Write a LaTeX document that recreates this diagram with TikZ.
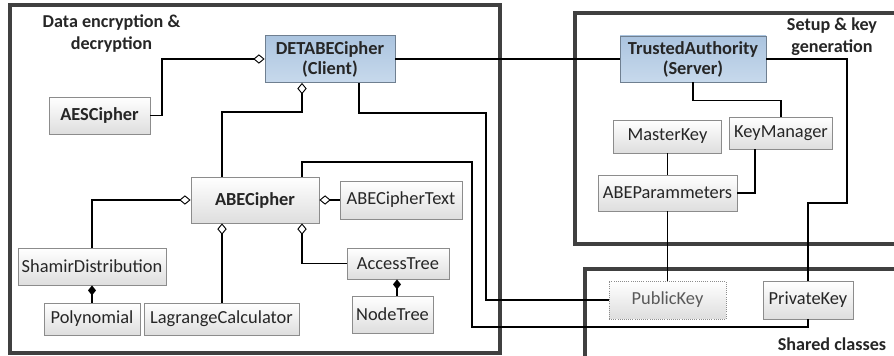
\documentclass[tikz,border=0pt]{standalone}
\usepackage{fontspec}
\setmainfont{Carlito}
\usepackage{tikz}
\usetikzlibrary{arrows.meta}

\definecolor{frameline}{HTML}{404040}
\definecolor{boxline}{HTML}{8C8C8C}
\definecolor{boxtext}{HTML}{262626}
\definecolor{boxbottom}{HTML}{DEDEDE}
\definecolor{bluetop}{HTML}{ABC4DF}
\definecolor{bluebottom}{HTML}{C7D9EC}
\definecolor{blueline}{HTML}{6F7F90}

\begin{document}
\begin{tikzpicture}
 [ x=0.75pt, y=-0.75pt
 , every node/.style={font=\fontsize{13.8}{15}\selectfont, text=boxtext}
 , umlbox/.style={draw=boxline, line width=0.6pt, top color=white, bottom color=boxbottom, inner sep=0pt, align=center}
 , strong/.style={font=\fontsize{13.8}{15}\selectfont\bfseries}
 , bluebox/.style={umlbox, strong, draw=blueline, top color=bluetop, bottom color=bluebottom}
 , sharedbox/.style={umlbox, densely dotted, text=black!65}
 , boxsize/.style 2 args={minimum width=#1*0.75pt, minimum height=#2*0.75pt}
 , boxframe/.style={draw=frameline, line width=3pt}
 , boxtitle/.style={font=\fontsize{13.6}{16.5}\selectfont\bfseries, align=center}
 , conn/.style={line width=1.4pt}
 , link/.style={line width=1pt}
 , aggr/.style={{Diamond[fill=white, length=8.5pt, width=7pt, line width=0.7pt]}-}
 , comp/.style={{Diamond[length=7.5pt, width=6pt]}-}
 ]
  \useasboundingbox (0,0) rectangle (894,356);

  % package frames
  \draw [boxframe] (10,5) rectangle (500,353);
  \draw [boxframe] (898,13) -- (575,13) -- (575,244) -- (898,244);
  \draw [boxframe] (898,269) -- (585,269) -- (585,360);

  \node [boxtitle] (encTitle) at (111.5,34) {Data encryption \&\\decryption};
  \node [boxtitle] (setupTitle) at (832,37) {Setup \& key\\generation};
  \node [boxtitle] (sharedTitle) at (832,344) {Shared classes};

  % client side
  \node [bluebox, boxsize={130}{47}] (detabe) at (330,59) {DETABECipher\\(Client)};
  \node [umlbox, strong, boxsize={101}{37}] (aes) at (99.5,115.5) {AESCipher};
  \node [umlbox, strong, boxsize={128}{46}] (abe) at (255,200) {ABECipher};
  \node [umlbox, boxsize={122}{38}] (abetext) at (401,200) {ABECipherText};
  \node [umlbox, boxsize={148}{37}] (shamir) at (92,266.5) {ShamirDistribution};
  \node [umlbox, boxsize={96}{32}] (poly) at (92,319) {Polynomial};
  \node [umlbox, boxsize={155}{32}] (lagrange) at (221.5,319) {LagrangeCalculator};
  \node [umlbox, boxsize={102}{31}] (access) at (398,263.5) {AccessTree};
  \node [umlbox, boxsize={81}{37}] (nodetree) at (392.5,314.5) {NodeTree};

  % server side
  \node [bluebox, boxsize={146}{46}] (trusted) at (693,59) {TrustedAuthority\\(Server)};
  \node [umlbox, boxsize={108}{33}] (master) at (667.5,136.5) {MasterKey};
  \node [umlbox, boxsize={103}{32}] (keymgr) at (781,133) {KeyManager};
  \node [umlbox, boxsize={139}{36}] (params) at (667.5,193) {ABEParammeters};

  % shared
  \node [sharedbox, boxsize={117}{38}] (pubkey) at (667.5,300) {PublicKey};
  \node [umlbox, boxsize={90}{38}] (privkey) at (808,300) {PrivateKey};

  \draw [conn, aggr] (detabe.west) -| (162,0 |- aes.east) -- (aes.east);
  \draw [conn, aggr] (302,0 |- detabe.south) |- (222,112) -- (222,0 |- abe.north);
  \draw [conn, aggr] (abe.west) -| (shamir.north);
  \draw [conn, aggr] (abe.east) -- (abetext.west);
  \draw [conn, aggr] (222,0 |- abe.south) -- (222,0 |- lagrange.north);
  \draw [conn, aggr] (302,0 |- abe.south) |- (access.west);
  \draw [conn, comp] (shamir.south) -- (poly.north);
  \draw [conn, comp] (397,0 |- access.south) -- (397,0 |- nodetree.north);

  \draw [link] (detabe.east) -- (trusted.west);
  \draw [link] (359,0 |- detabe.south) |- (486,113) |- (pubkey.west);
  \draw [link] (302,0 |- abe.north) |- (472,162) -- (472,327) -| (privkey.south);
  \draw [link] (trusted.east) -| (847,203) -| (privkey.north);
  \draw [link] (trusted.south) -- ++(0,18) -| (keymgr.north);
  \draw [link] (755,0 |- keymgr.south) |- (params.east);
  \draw [link] (master) -- (params);
  \draw [link] (params) -- (pubkey);
\end{tikzpicture}
\end{document}
